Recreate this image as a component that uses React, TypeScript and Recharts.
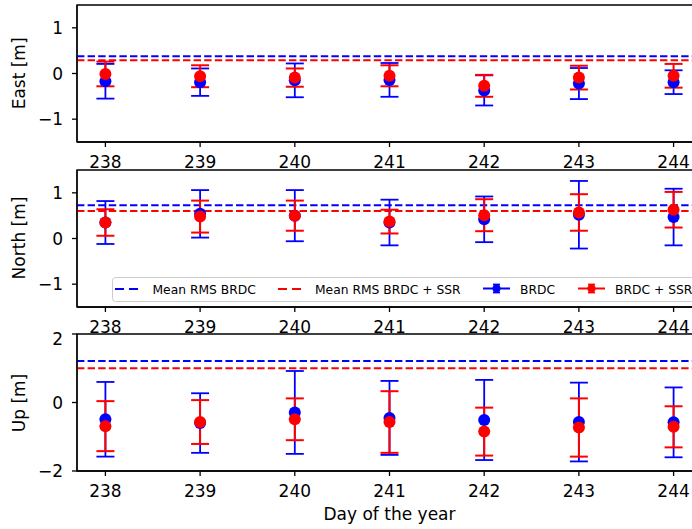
import React from "react";
import {
  ScatterChart,
  Scatter,
  XAxis,
  YAxis,
  ErrorBar,
  ReferenceLine,
  ReferenceArea,
  Legend,
} from "recharts";

// day of the year
const days = [238, 239, 240, 241, 242, 243, 244];

// East [m]
const eastBrdc = [-0.17, -0.19, -0.15, -0.14, -0.37, -0.22, -0.19];
const eastBrdcErr = [0.38, 0.3, 0.37, 0.37, 0.33, 0.34, 0.26];
const eastSsr = [-0.01, -0.06, -0.09, -0.05, -0.27, -0.09, -0.05];
const eastSsrErr = [0.27, 0.24, 0.2, 0.23, 0.24, 0.26, 0.26];

// North [m]
const northBrdc = [0.35, 0.54, 0.5, 0.35, 0.42, 0.52, 0.47];
const northBrdcErr = [0.47, 0.52, 0.56, 0.5, 0.5, 0.74, 0.62];
const northSsr = [0.35, 0.48, 0.5, 0.37, 0.51, 0.57, 0.63];
const northSsrErr = [0.29, 0.35, 0.33, 0.26, 0.35, 0.4, 0.39];

// Up [m]
const upBrdc = [-0.49, -0.6, -0.29, -0.45, -0.51, -0.57, -0.58];
const upBrdcErr = [1.09, 0.87, 1.21, 1.08, 1.17, 1.15, 1.02];
const upSsr = [-0.69, -0.57, -0.49, -0.57, -0.85, -0.73, -0.71];
const upSsrErr = [0.73, 0.64, 0.61, 0.9, 0.7, 0.85, 0.6];

// mean RMS lines [blue, red]
const eastMeanRms = [0.38, 0.29];
const northMeanRms = [0.73, 0.6];
const upMeanRms = [1.21, 1.0];

const BLUE = "#0000ff";
const RED = "#ff0000";
const X_DOMAIN: [number, number] = [237.7, 244.3];

const toRows = (vals: number[], errs: number[]) =>
  days.map((d, i) => ({ day: d, v: vals[i], e: errs[i] }));

const fmt = (v: number) => String(v).replace("-", "\u2212");

const dot = (color: string) => (p: any) =>
  <circle cx={p.cx} cy={p.cy} r={6} fill={color} />;

const LegendBox = () => (
  <svg width={600} height={25} style={{ display: "block", fontFamily: "DejaVu Sans" }}>
    <rect x={0.5} y={0.5} width={598} height={24} rx={3} fill="#fff" fillOpacity={0.8} stroke="#cccccc" />
    <line x1={3} x2={26} y1={12} y2={12} stroke={BLUE} strokeWidth={2} strokeDasharray="9 5" />
    <text x={40.5} y={16.5} fontSize={12.3} fill="#000">Mean RMS BRDC</text>
    <line x1={166} x2={191} y1={12} y2={12} stroke={RED} strokeWidth={2} strokeDasharray="9 5" />
    <text x={203} y={16.5} fontSize={12.3} fill="#000">Mean RMS BRDC + SSR</text>
    {[
      { x: 371, color: BLUE, label: "BRDC" },
      { x: 466, color: RED, label: "BRDC + SSR" },
    ].map((it) => (
      <g key={it.label}>
        <line x1={it.x} x2={it.x + 27} y1={11.5} y2={11.5} stroke={it.color} strokeWidth={2} />
        <line x1={it.x + 13.5} x2={it.x + 13.5} y1={7.5} y2={15.5} stroke={it.color} strokeWidth={1.8} />
        <line x1={it.x + 10} x2={it.x + 17} y1={7.5} y2={7.5} stroke={it.color} strokeWidth={1.8} />
        <line x1={it.x + 10} x2={it.x + 17} y1={15.5} y2={15.5} stroke={it.color} strokeWidth={1.8} />
        <circle cx={it.x + 13.5} cy={11.5} r={4} fill={it.color} />
        <text x={it.x + 37} y={16.5} fontSize={12.3} fill="#000">{it.label}</text>
      </g>
    ))}
  </svg>
);

interface PanelProps {
  top: number;
  brdc: { day: number; v: number; e: number }[];
  ssr: { day: number; v: number; e: number }[];
  yDomain: [number, number];
  yTicks: number[];
  means: number[];
  legend?: boolean;
}

const Panel: React.FC<PanelProps> = ({ top, brdc, ssr, yDomain, yTicks, means, legend }) => {
  const tick = { fill: "#000", fontSize: 17 };
  return (
    <div style={{ position: "absolute", left: 0, top }}>
      <ScatterChart width={720} height={172} margin={{ top: 5, right: 18, bottom: 0, left: 27 }}>
        <XAxis
          type="number"
          dataKey="day"
          domain={X_DOMAIN}
          ticks={days}
          allowDataOverflow
          height={30}
          tickSize={5}
          tickMargin={9}
          stroke="#000"
          strokeWidth={1.3}
          tick={tick}
        />
        <YAxis
          type="number"
          dataKey="v"
          domain={yDomain}
          ticks={yTicks}
          allowDataOverflow
          width={50}
          tickSize={5}
          tickMargin={9}
          tickFormatter={fmt}
          stroke="#000"
          strokeWidth={1.3}
          tick={tick}
        />
        <ReferenceArea
          x1={X_DOMAIN[0]}
          x2={X_DOMAIN[1]}
          y1={yDomain[0]}
          y2={yDomain[1]}
          fill="none"
          stroke="#000"
          strokeWidth={1.3}
        />
        <ReferenceLine y={means[0]} stroke={BLUE} strokeWidth={2} strokeDasharray="7.4 3.2" />
        <ReferenceLine y={means[1]} stroke={RED} strokeWidth={2} strokeDasharray="7.4 3.2" />
        <Scatter data={brdc} fill={BLUE} shape={dot(BLUE)} isAnimationActive={false}>
          <ErrorBar dataKey="e" direction="y" width={9} stroke={BLUE} strokeWidth={1.8} />
        </Scatter>
        <Scatter data={ssr} fill={RED} shape={dot(RED)} isAnimationActive={false}>
          <ErrorBar dataKey="e" direction="y" width={9} stroke={RED} strokeWidth={2} />
        </Scatter>
        {legend && (
          <Legend
            verticalAlign="middle"
            align="center"
            content={<LegendBox />}
            wrapperStyle={{ left: 112, top: 112.5, width: 600, height: 25 }}
          />
        )}
      </ScatterChart>
    </div>
  );
};

export default function App() {
  return (
    <div
      style={{
        position: "absolute",
        left: 0,
        top: 0,
        width: 692,
        height: 529,
        overflow: "hidden",
        background: "#fff",
        fontFamily: "DejaVu Sans",
      }}
    >
      <Panel
        top={0}
        brdc={toRows(eastBrdc, eastBrdcErr)}
        ssr={toRows(eastSsr, eastSsrErr)}
        yDomain={[-1.5, 1.5]}
        yTicks={[-1, 0, 1]}
        means={eastMeanRms}
      />
      <Panel
        top={164.5}
        brdc={toRows(northBrdc, northBrdcErr)}
        ssr={toRows(northSsr, northSsrErr)}
        yDomain={[-1.5, 1.5]}
        yTicks={[-1, 0, 1]}
        means={northMeanRms}
        legend
      />
      <Panel
        top={329}
        brdc={toRows(upBrdc, upBrdcErr)}
        ssr={toRows(upSsr, upSsrErr)}
        yDomain={[-2, 2]}
        yTicks={[-2, 0, 2]}
        means={upMeanRms}
      />
      <svg
        width={692}
        height={529}
        style={{ position: "absolute", left: 0, top: 0, pointerEvents: "none" }}
      >
        <g fontSize={17} fill="#000" textAnchor="middle">
          <text transform="translate(25,73.4) rotate(-90)">East [m]</text>
          <text transform="translate(25,238) rotate(-90)">North [m]</text>
          <text transform="translate(25,403) rotate(-90)">Up [m]</text>
          <text x={389.5} y={520}>Day of the year</text>
        </g>
      </svg>
    </div>
  );
}
